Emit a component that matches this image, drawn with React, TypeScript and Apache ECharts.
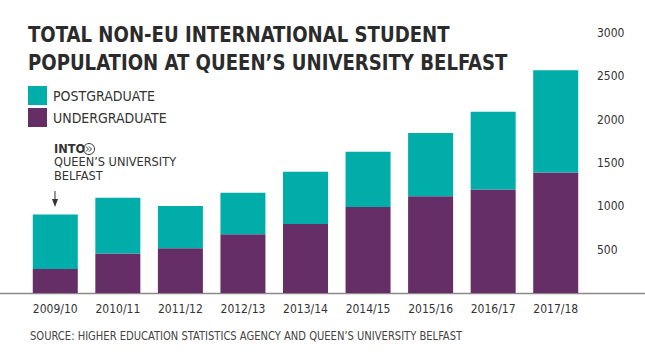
import React, { useEffect, useRef } from "react";
import * as echarts from "echarts";

const categories = ["2009/10", "2010/11", "2011/12", "2012/13", "2013/14", "2014/15", "2015/16", "2016/17", "2017/18"];
const undergraduate = [278, 456, 515, 678, 796, 993, 1115, 1193, 1390];
const postgraduate = [629, 644, 489, 478, 604, 637, 732, 897, 1180];
const yTicks = [500, 1000, 1500, 2000, 2500, 3000];

const TEAL = "#00ADA8";
const PURPLE = "#652E67";
const FONT = "'DejaVu Sans Condensed', 'Liberation Sans Narrow', 'Roboto', sans-serif";

export default function App() {
  const ref = useRef<HTMLDivElement>(null);
  useEffect(() => {
    if (!ref.current) return;
    const chart = echarts.init(ref.current, undefined, { renderer: "svg" });
    chart.setOption({
      animation: false,
      backgroundColor: "#ffffff",
      textStyle: { fontFamily: FONT },
      grid: { left: 24, right: 58, top: 33, bottom: 69 },
      legend: {
        data: ["POSTGRADUATE", "UNDERGRADUATE"],
        orient: "vertical",
        left: 28,
        top: 86,
        padding: 0,
        itemWidth: 19,
        itemHeight: 19,
        itemGap: 3,
        icon: "rect",
        textStyle: { fontFamily: FONT, fontSize: 14, color: "#333333", padding: [0, 0, 0, 1] },
      },
      xAxis: {
        type: "category",
        data: categories,
        axisLine: { show: false },
        axisTick: { show: false },
        axisLabel: { color: "#333333", fontSize: 12, margin: 10, fontFamily: FONT },
      },
      yAxis: {
        type: "value",
        position: "right",
        min: 0,
        max: 3000,
        interval: 500,
        splitLine: { show: false },
        axisLine: { show: false },
        axisTick: { show: false },
        axisLabel: {
          color: "#333333",
          fontSize: 12,
          margin: 10,
          fontFamily: FONT,
          formatter: (v: number) => (yTicks.includes(v) ? String(v) : ""),
        },
      },
      series: [
        {
          name: "UNDERGRADUATE",
          type: "bar",
          stack: "total",
          data: undergraduate,
          barWidth: 45,
          itemStyle: { color: PURPLE },
        },
        {
          name: "POSTGRADUATE",
          type: "bar",
          stack: "total",
          data: postgraduate,
          barWidth: 45,
          itemStyle: { color: TEAL },
        },
      ],
      graphic: [
        {
          type: "text",
          x: 28,
          y: 20,
          scaleX: 0.915,
          style: {
            text: "TOTAL NON-EU INTERNATIONAL STUDENT\nPOPULATION AT QUEEN\u2019S UNIVERSITY BELFAST",
            font: `bold 22px ${FONT}`,
            fill: "#2b2b2b",
            lineHeight: 28,
            verticalAlign: "top",
          },
        },
        {
          type: "line",
          shape: { x1: 0, y1: 293.5, x2: 645, y2: 293.5 },
          style: { stroke: "#8a8a8a", lineWidth: 1.5 },
        },
        {
          type: "text",
          x: 54,
          y: 142.2,
          scaleX: 1.1,
          style: {
            text: "{b|INTO}\n{n|QUEEN\u2019S UNIVERSITY}\n{n|BELFAST}",
            fill: "#333333",
            verticalAlign: "top",
            rich: {
              b: { fontFamily: FONT, fontWeight: "bold", fontSize: 11.5, lineHeight: 13.5, fill: "#333333" },
              n: { fontFamily: FONT, fontSize: 11.5, lineHeight: 13.5, fill: "#333333" },
            },
          },
        },
        {
          type: "circle",
          shape: { cx: 89, cy: 149, r: 5.5 },
          style: { fill: "none", stroke: "#333333", lineWidth: 1 },
        },
        {
          type: "polyline",
          shape: { points: [[86, 146.5], [88.5, 149], [86, 151.5]] },
          style: { fill: "none", stroke: "#333333", lineWidth: 1 },
        },
        {
          type: "polyline",
          shape: { points: [[89, 146.5], [91.5, 149], [89, 151.5]] },
          style: { fill: "none", stroke: "#333333", lineWidth: 1 },
        },
        {
          type: "line",
          shape: { x1: 55, y1: 191, x2: 55, y2: 203 },
          style: { stroke: "#333333", lineWidth: 1 },
        },
        {
          type: "polygon",
          shape: { points: [[52, 199], [58, 199], [55, 207]] },
          style: { fill: "#333333" },
        },
        {
          type: "text",
          x: 30,
          y: 330,
          scaleX: 0.925,
          style: {
            text: "SOURCE: HIGHER EDUCATION STATISTICS AGENCY AND QUEEN\u2019S UNIVERSITY BELFAST",
            font: `12px ${FONT}`,
            fill: "#444444",
            verticalAlign: "top",
          },
        },
      ],
    });
    return () => chart.dispose();
  }, []);
  return <div ref={ref} style={{ width: 645, height: 362, position: "absolute", left: 0, top: 0 }} />;
}
